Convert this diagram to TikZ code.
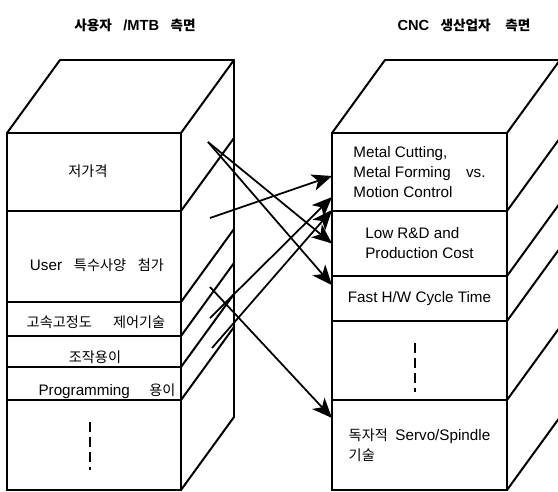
\documentclass[tikz,border=0pt]{standalone}
\usepackage{fontspec}
\setmainfont{Liberation Sans}
\newfontfamily\krfont{Noto Sans CJK KR}[Scale=0.93]
\usetikzlibrary{arrows.meta}
\tikzset{
    cellbox/.style={rectangle, draw=black, line width=1.7pt, inner sep=0pt, outer sep=0pt, minimum width=52.2mm, align=left, font=\fontsize{13}{17}\selectfont},
    rcellbox/.style={cellbox, minimum width=52.5mm},
    celltext/.style={inner sep=0pt, font=\fontsize{13}{17}\selectfont},
    boxline/.style={line width=1.7pt, line join=round},
    maparrow/.style={-{Stealth[length=6mm, width=5mm, inset=1.6mm]}, line width=1.5pt},
    moredots/.style={line width=1.6pt, dash pattern=on 3mm off 1.5mm},
    heading/.style={inner sep=0pt, font=\fontsize{12.5}{15}\selectfont\bfseries}
}
\begin{document}
\begin{tikzpicture}[x=0.3mm, y=-0.3mm]
    \useasboundingbox (0,0) rectangle (558,492);

    % titles
    \node[heading] (usertitle) at (135,25) {{\krfont 사용자}\enspace\ /MTB\enspace\ {\krfont 측면}};
    \node[heading] (cnctitle) at (464,25) {CNC\enspace\ {\krfont 생산업자}\quad{\krfont 측면}};

    % user / MTB side
    \node[cellbox, minimum height=23.4mm] (lowprice) at (94,172) {};
    \node[cellbox, minimum height=27.3mm] (user) at (94,256.5) {};
    \node[cellbox, minimum height=10.2mm] (hispeed) at (94,319) {};
    \node[cellbox, minimum height=9.3mm] (easyop) at (94,351.5) {};
    \node[cellbox, minimum height=9.9mm] (prog) at (94,383.5) {};
    \node[cellbox, minimum height=27mm] (lmore) at (94,445) {};

    \node[celltext] (lowpricetext) at (88,171) {\krfont 저가격};
    \node[celltext] (usertext) at (97,265) {User\enspace\ {\krfont 특수사양}\enspace\ {\krfont 첨가}};
    \node[celltext] (hispeedtext) at (96,322) {\krfont 고속고정도\quad\enspace 제어기술};
    \node[celltext] (easyoptext) at (95,357) {\krfont 조작용이};
    \node[celltext] (progtext) at (107,391) {Programming\quad\ {\krfont 용이}};

    \draw[boxline] (lowprice.north west) -- ++(53,-73) -- ++(174,0) -- (lowprice.north east);
    \draw[boxline] (lowprice.north east) ++(53,-73) -- ++(0,357) -- (lmore.south east);
    \foreach \c in {lowprice, user, hispeed, easyop, prog}
        \draw[boxline] (\c.south east) -- ++(53,-73);
    \draw[moredots] (90,422) -- (90,470);

    % CNC maker side
    \node[rcellbox, minimum height=23.4mm] (metal) at (419.5,172) {Metal Cutting,\\Metal Forming\quad vs.\\Motion Control};
    \node[rcellbox, minimum height=19.5mm] (lowrd) at (419.5,243.5) {Low R\&D and\\Production Cost};
    \node[rcellbox, minimum height=13.5mm] (fast) at (419.5,298.5) {Fast H/W Cycle Time};
    \node[rcellbox, minimum height=23.7mm] (rmore) at (419.5,360.5) {};
    \node[rcellbox, minimum height=27mm] (servo) at (419.5,445) {{\krfont 독자적}\enspace Servo/Spindle\\{\krfont 기술}};

    \draw[boxline] (metal.north west) -- ++(53,-73) -- ++(175,0) -- (metal.north east);
    \draw[boxline] (metal.north east) ++(53,-73) -- ++(0,357) -- (servo.south east);
    \foreach \c in {metal, lowrd, fast, rmore}
        \draw[boxline] (\c.south east) -- ++(53,-73);
    \draw[moredots] (415,343) -- (415,392);

    % mapping
    \coordinate (lowpriceout) at (208,142);
    \coordinate (userout) at (210,218);
    \coordinate (hispeedout) at (210,287);
    \coordinate (easyopout) at (210,318);
    \coordinate (progout) at (212,348);

    \draw[maparrow] (lowpriceout) -- (lowrd.west);
    \draw[maparrow] (lowpriceout) -- ([yshift=4mm]fast.west);
    \draw[maparrow] (userout) -- ([yshift=-1.2mm]metal.west);
    \draw[maparrow] (easyopout) -- ([yshift=-7.5mm]metal.west);
    \draw[maparrow] (progout) -- ([yshift=0.3mm]metal.south west);
    \draw[maparrow] (hispeedout) -- ([yshift=8.1mm]servo.west);
\end{tikzpicture}
\end{document}
